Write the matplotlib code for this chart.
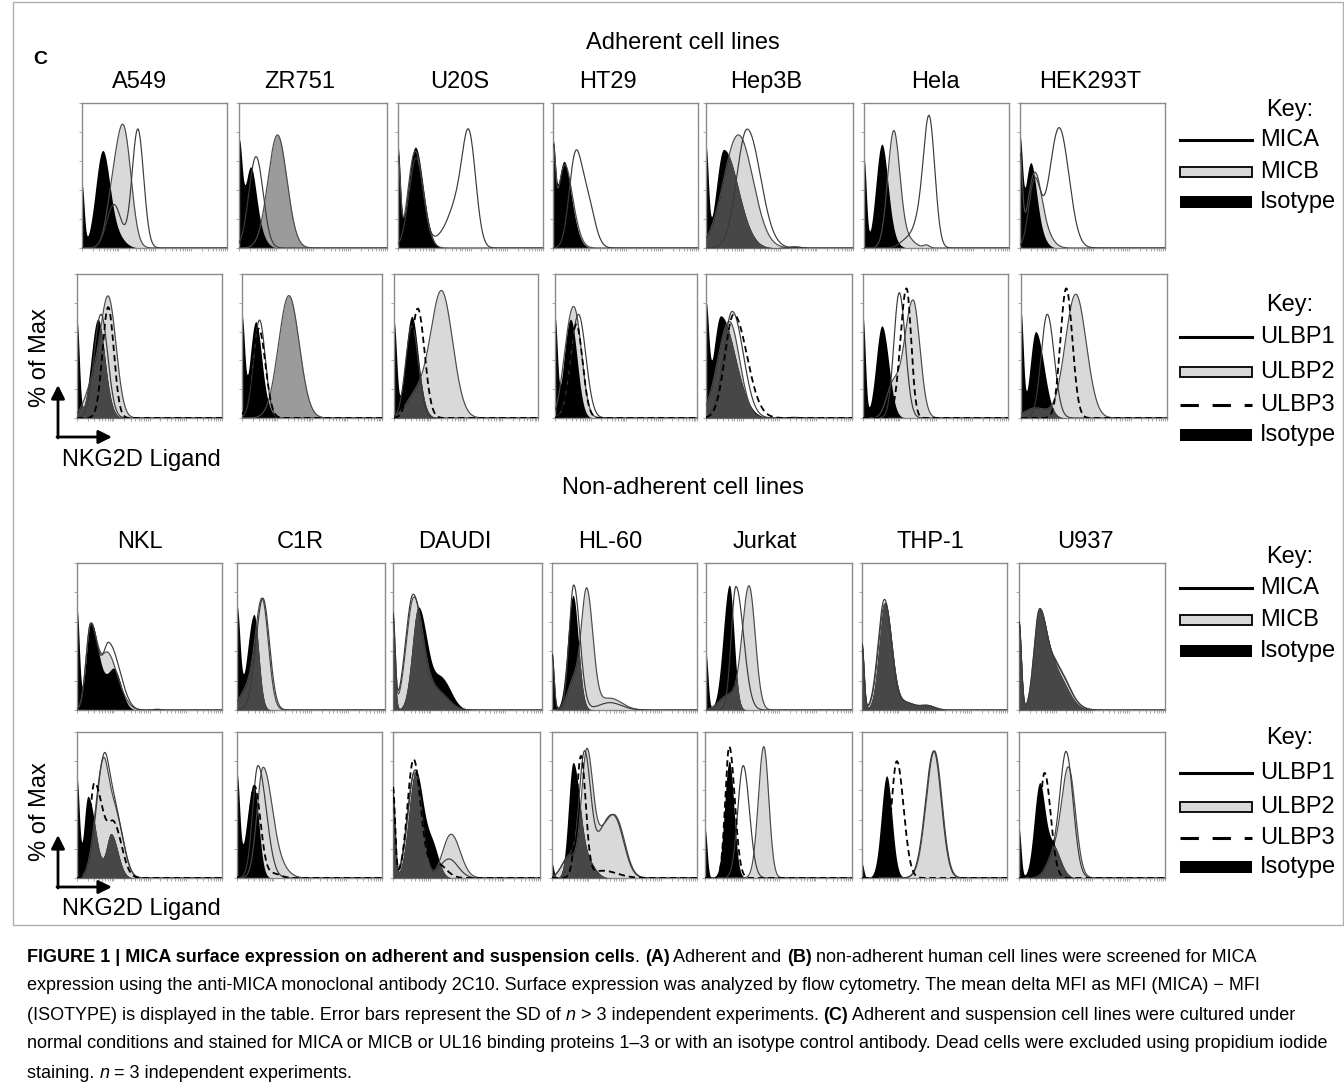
import numpy as np
import matplotlib
matplotlib.use("Agg")
import matplotlib.pyplot as plt
from matplotlib.patches import Rectangle

W, H = 1344, 1089
plt.rcParams['font.family'] = ['Liberation Sans', 'DejaVu Sans']

# ---------------------------------------------------------------- data
adherent_lines = ["A549", "ZR751", "U20S", "HT29", "Hep3B", "Hela", "HEK293T"]
nonadherent_lines = ["NKL", "C1R", "DAUDI", "HL-60", "Jurkat", "THP-1", "U937"]

# Histogram peaks: (centre, height, left width, right width)
# on a 0-1 log-fluorescence axis, height as fraction of the panel ("% of Max").
adh_mic_iso = [
    [(0, .43, .015), (.14, .63, .048), (.22, .10, .06)],
    [(0, .67, .02), (.075, .51, .038), (.13, .10, .045)],
    [(0, .66, .016), (.115, .65, .048), (.18, .12, .045)],
    [(0, .60, .016), (.07, .53, .042), (.13, .15, .045)],
    [(0, .66, .016), (.12, .68, .05, .10), (.60, .015, .06)],
    [(0, .61, .016), (.12, .66, .04), (.17, .10, .045)],
    [(0, .66, .016), (.07, .52, .038), (.12, .12, .045)],
]
adh_mica = [
    [(.22, .30, .05), (.385, .82, .04)],
    [(.115, .63, .048)],
    [(.125, .62, .05), (.30, .07, .06), (.40, .25, .055), (.49, .75, .047)],
    [(.15, .55, .042), (.23, .35, .052)],
    [(.28, .82, .07, .09)],
    [(.30, .06, .05), (.38, .15, .04), (.45, .88, .039)],
    [(.10, .45, .04), (.27, .83, .067)],
]
adh_micb = [
    [(.21, .30, .045), (.29, .78, .05)],
    [(.26, .78, .064)],
    [(0, .60, .016), (.115, .63, .048), (.18, .10, .045)],
    [(0, .58, .016), (.075, .52, .045), (.14, .14, .045)],
    [(.22, .78, .10)],
    [(.205, .80, .042), (.30, .06, .05), (.43, .02, .02)],
    [(0, .60, .016), (.10, .50, .047), (.18, .08, .05)],
]
adh_ulbp_iso = [
    [(0, .67, .016), (.14, .63, .045), (.19, .10, .045)],
    [(0, .67, .018), (.095, .62, .04), (.15, .10, .045)],
    [(0, .66, .018), (.12, .65, .042), (.17, .10, .045)],
    [(0, .67, .016), (.10, .55, .042), (.14, .20, .04)],
    [(0, .70, .018), (.10, .71, .05, .10), (.60, .012, .06)],
    [(0, .70, .016), (.13, .64, .04, .047)],
    [(0, .72, .016), (.10, .60, .037, .057)],
]
adh_ulbp1 = [
    [(.165, .72, .047)],
    [(.125, .68, .042)],
    [(.125, .64, .044)],
    [(.165, .72, .052)],
    [(.18, .74, .06, .075)],
    [(.25, .87, .037, .042)],
    [(.18, .72, .042, .047)],
]
adh_ulbp2 = [
    [(.12, .25, .06), (.22, .78, .052)],
    [(.335, .85, .074)],
    [(.15, .15, .07), (.33, .88, .077)],
    [(.08, .30, .042), (.145, .66, .047)],
    [(.16, .67, .08, .07)],
    [(.20, .20, .042), (.345, .82, .062, .047)],
    [(.10, .07, .08), (.375, .86, .072, .072)],
]
adh_ulbp3 = [
    [(.215, .77, .039)],
    [(.12, .62, .047)],
    [(.165, .76, .047)],
    [(.15, .65, .044)],
    [(.19, .72, .06, .09)],
    [(.30, .90, .042, .032)],
    [(.31, .90, .04, .042)],
]
non_mic_iso = [
    [(0, .68, .016), (.095, .58, .032, .047), (.18, .12, .042), (.26, .26, .042, .047), (.55, .012, .04)],
    [(0, .68, .02), (.115, .65, .045, .032)],
    [(0, .50, .014), (.17, .70, .042, .062), (.33, .20, .052, .062)],
    [(0, .40, .014), (.145, .78, .037, .037)],
    [(0, .38, .014), (.16, .85, .042, .032)],
    [(0, .46, .014), (.16, .73, .042, .047), (.30, .05, .06), (.45, .03, .05)],
    [(0, .60, .016), (.14, .66, .037, .052), (.25, .25, .052, .08)],
]
non_mica = [
    [(.095, .59, .032, .052), (.22, .40, .037, .057), (.30, .10, .05)],
    [(.175, .76, .047, .044)],
    [(0, .64, .014), (.135, .78, .05, .062), (.30, .12, .07)],
    [(0, .38, .014), (.15, .85, .032, .042), (.40, .05, .08)],
    [(.205, .84, .032, .052)],
    [(0, .45, .014), (.155, .75, .044, .047), (.30, .05, .06), (.45, .03, .05)],
    [(0, .60, .016), (.14, .67, .037, .052), (.26, .27, .052, .08)],
]
non_micb = [
    [(.095, .585, .032, .05), (.215, .34, .042, .052), (.30, .08, .05)],
    [(.06, .12, .05), (.17, .75, .047, .042)],
    [(0, .62, .014), (.14, .76, .05, .062), (.30, .12, .07)],
    [(.15, .20, .042), (.24, .80, .037, .042), (.40, .08, .08)],
    [(.15, .10, .06), (.295, .84, .047, .042)],
    [(0, .44, .014), (.158, .72, .044, .048), (.30, .05, .06), (.45, .03, .05)],
    [(0, .60, .016), (.14, .66, .037, .052), (.26, .28, .052, .08)],
]
non_ulbp_iso = [
    [(0, .67, .016), (.075, .56, .027, .052), (.235, .30, .032, .047)],
    [(0, .68, .018), (.115, .64, .047, .035)],
    [(0, .55, .014), (.155, .73, .047, .052), (.27, .20, .042, .042)],
    [(0, .10, .012), (.145, .78, .032, .047), (.25, .10, .05)],
    [(0, .34, .014), (.165, .80, .032, .032)],
    [(0, .10, .012), (.17, .70, .037, .037)],
    [(0, .34, .014), (.14, .63, .037, .037), (.23, .22, .042, .052)],
]
non_ulbp1 = [
    [(.185, .80, .052, .042), (.27, .40, .042, .052)],
    [(.145, .77, .037, .057)],
    [(0, .58, .014), (.15, .74, .047, .047), (.38, .13, .062, .062)],
    [(.12, .15, .05), (.225, .84, .037, .042), (.34, .20, .05), (.435, .39, .062, .062)],
    [(.26, .77, .037, .042)],
    [(.495, .87, .057, .052)],
    [(.24, .15, .05), (.325, .83, .042, .047)],
]
non_ulbp2 = [
    [(.18, .78, .052, .042), (.27, .40, .042, .052)],
    [(.18, .75, .042, .062), (.30, .06, .06)],
    [(0, .56, .014), (.145, .72, .047, .047), (.395, .30, .057, .062)],
    [(.12, .15, .05), (.24, .85, .037, .042), (.34, .20, .05), (.44, .40, .062, .062)],
    [(.40, .90, .037, .034)],
    [(.50, .87, .057, .052)],
    [(.24, .15, .05), (.34, .74, .047, .047)],
]
non_ulbp3 = [
    [(.12, .65, .032, .062), (.26, .33, .042, .052)],
    [(.12, .63, .037, .042), (.25, .03, .05)],
    [(0, .62, .014), (.14, .81, .042, .047), (.30, .10, .06)],
    [(.20, .82, .032, .032), (.35, .05, .10)],
    [(.165, .90, .027, .037)],
    [(.24, .80, .037, .047)],
    [(.175, .72, .032, .042)],
]

key_mic = ["MICA", "MICB", "Isotype"]
key_ulbp = ["ULBP1", "ULBP2", "ULBP3", "Isotype"]

# ---------------------------------------------------------------- styles
LIGHT, MED, DARK = '#d9d9d9', '#9b9b9b', '#474747'
adh_mic_fill = [LIGHT, MED, LIGHT, LIGHT, LIGHT, LIGHT, LIGHT]
adh_mic_over = ['k', 'k', 'k', 'k', DARK, 'k', 'k']
adh_ulbp_fill = [LIGHT, MED, LIGHT, LIGHT, LIGHT, LIGHT, LIGHT]
adh_ulbp_over = [DARK, 'k', DARK, 'k', DARK, 'k', DARK]
non_fill = [LIGHT] * 7
non_mic_over = ['k', DARK, DARK, DARK, DARK, DARK, DARK]
non_ulbp_over = [DARK, 'k', DARK, DARK, 'k', 'k', DARK]

row_y = [(103, 248), (274, 418), (563, 710), (732, 878)]
row_x = [
    [(82, 227), (239, 387), (398, 543), (553, 698), (706, 853), (864, 1009), (1020, 1165)],
    [(77, 222), (242, 382), (394, 538), (555, 697), (706, 852), (863, 1008), (1021, 1167)],
    [(77, 222), (237, 385), (393, 542), (552, 697), (706, 852), (862, 1007), (1019, 1165)],
    [(77, 222), (237, 382), (393, 540), (552, 697), (705, 852), (862, 1007), (1019, 1165)],
]
title_x_top = [140, 300, 460, 608, 766, 935, 1090]
title_x_bot = [140, 300, 455, 610, 765, 930, 1085]

XG = np.linspace(0, 1, 700)


def curve(comps):
    y = np.zeros_like(XG)
    for c in comps:
        if len(c) == 3:
            mu, h, sl = c
            sr = sl
        else:
            mu, h, sl, sr = c
        s = np.where(XG < mu, sl, sr)
        y += h * np.exp(-0.5 * ((XG - mu) / s) ** 2)
    return np.clip(y, 0, 0.98)


fig = plt.figure(figsize=(W / 100, H / 100), dpi=100)
ax0 = fig.add_axes([0, 0, 1, 1])
ax0.set_xlim(0, W)
ax0.set_ylim(H, 0)
ax0.axis('off')


def panel_axes(l, r, t, b):
    ax = fig.add_axes([l / W, 1 - b / H, (r - l) / W, (b - t) / H])
    ax.set_xlim(0, 1)
    ax.set_ylim(0, 1)
    minors = [(d + np.log10(k)) / 4 for d in range(4) for k in range(1, 10)] + [1.0]
    ax.set_xticks(minors)
    ax.set_yticks(np.linspace(0, 1, 6))
    ax.tick_params(length=2.2, width=0.6, color='#9a9a9a', labelbottom=False, labelleft=False)
    for sp in ax.spines.values():
        sp.set_color('#8a8a8a')
        sp.set_linewidth(1.0)
    return ax


def draw_panel(ax, iso, grey, solid, dashed, fillc, overc):
    yi = curve(iso)
    yg = curve(grey)
    ax.fill_between(XG, 0, yg, color=fillc, lw=0, zorder=1)
    ax.fill_between(XG, 0, yi, color='k', lw=0, zorder=2)
    if overc != 'k':
        ax.fill_between(XG, 0, np.minimum(yi, yg), color=overc, lw=0, zorder=3)
    ax.plot(XG, yg, color='#4a4a4a', lw=0.85, zorder=4)
    ax.plot(XG, curve(solid), color='#3a3a3a', lw=0.85, zorder=5)
    if dashed is not None:
        ax.plot(XG, curve(dashed), color='k', lw=1.3, dashes=(3.5, 2.2), zorder=6)


for i in range(7):
    t, b = row_y[0]; l, r = row_x[0][i]
    draw_panel(panel_axes(l, r, t, b), adh_mic_iso[i], adh_micb[i], adh_mica[i], None,
               adh_mic_fill[i], adh_mic_over[i])
    t, b = row_y[1]; l, r = row_x[1][i]
    draw_panel(panel_axes(l, r, t, b), adh_ulbp_iso[i], adh_ulbp2[i], adh_ulbp1[i], adh_ulbp3[i],
               adh_ulbp_fill[i], adh_ulbp_over[i])
    t, b = row_y[2]; l, r = row_x[2][i]
    draw_panel(panel_axes(l, r, t, b), non_mic_iso[i], non_micb[i], non_mica[i], None,
               non_fill[i], non_mic_over[i])
    t, b = row_y[3]; l, r = row_x[3][i]
    draw_panel(panel_axes(l, r, t, b), non_ulbp_iso[i], non_ulbp2[i], non_ulbp1[i], non_ulbp3[i],
               non_fill[i], non_ulbp_over[i])

# ---------------------------------------------------------------- texts
FS = 17
ax0.add_patch(Rectangle((13, 2), 1330, 923, fill=False, ec='#b0b0b0', lw=1.0))
ax0.text(40, 60, "C", fontsize=14, fontweight='bold', ha='center', va='center')
ax0.text(683, 43, "Adherent cell lines", fontsize=FS, ha='center', va='center')
ax0.text(683, 488, "Non-adherent cell lines", fontsize=FS, ha='center', va='center')
for i in range(7):
    ax0.text(title_x_top[i], 82, adherent_lines[i], fontsize=FS, ha='center', va='center')
    ax0.text(title_x_bot[i], 542, nonadherent_lines[i], fontsize=FS, ha='center', va='center')

for (ycorner, ylab, ytxt) in [(437, 358, 460), (887, 812, 909)]:
    ax0.text(40, ylab, "% of Max", fontsize=FS, rotation=90, ha='center', va='center')
    ax0.annotate('', xy=(58, ycorner - 52), xytext=(58, ycorner + 1),
                 arrowprops=dict(arrowstyle='-|>', lw=2, color='k', mutation_scale=20,
                                 shrinkA=0, shrinkB=0))
    ax0.annotate('', xy=(112, ycorner), xytext=(57, ycorner),
                 arrowprops=dict(arrowstyle='-|>', lw=2, color='k', mutation_scale=20,
                                 shrinkA=0, shrinkB=0))
    ax0.text(62, ytxt, "NKG2D Ligand", fontsize=FS, ha='left', va='center')

KX0, KX1, KT = 1180, 1252, 1260


def key_block(ykey, ys, labels):
    ax0.text(1290, ykey, "Key:", fontsize=FS, ha='center', va='center')
    for y, lab in zip(ys, labels):
        if lab in ("MICA", "ULBP1"):
            ax0.plot([KX0, KX1], [y, y], color='k', lw=2.2)
        elif lab in ("MICB", "ULBP2"):
            ax0.add_patch(Rectangle((KX0, y - 5), KX1 - KX0, 10, fc=LIGHT, ec='k', lw=1.3))
        elif lab == "ULBP3":
            ax0.plot([KX0, KX1], [y, y], color='k', lw=2.2, dashes=(6, 4.5))
        else:
            ax0.add_patch(Rectangle((KX0, y - 6), KX1 - KX0, 12, fc='k', ec='k', lw=0))
        ax0.text(KT, y, lab, fontsize=FS, ha='left', va='center')


key_block(110, [140, 172, 202], key_mic)
key_block(305, [337, 372, 405, 435], key_ulbp)
key_block(557, [588, 620, 651], key_mic)
key_block(738, [773, 807, 838, 867], key_ulbp)

# ---------------------------------------------------------------- caption
renderer = fig.canvas.get_renderer()
CFS = 13.0


def txt_width(s, **kw):
    t1 = ax0.text(0, 0, "|" + s + "|", fontsize=CFS, **kw)
    t2 = ax0.text(0, 0, "||", fontsize=CFS, **kw)
    w = t1.get_window_extent(renderer).width - t2.get_window_extent(renderer).width
    t1.remove(); t2.remove()
    return w


def runs(x, y, parts):
    for s, st in parts:
        kw = {}
        if st == 'b':
            kw['fontweight'] = 'bold'
        elif st == 'i':
            kw['fontstyle'] = 'italic'
        ax0.text(x, y, s, fontsize=CFS, ha='left', va='center', **kw)
        x += txt_width(s, **kw)


caption = [
    [("FIGURE 1 | MICA surface expression on adherent and suspension cells", 'b'), (". ", 'n'),
     ("(A)", 'b'), (" Adherent and ", 'n'), ("(B)", 'b'),
     (" non-adherent human cell lines were screened for MICA", 'n')],
    [("expression using the anti-MICA monoclonal antibody 2C10. Surface expression was analyzed "
      "by flow cytometry. The mean delta MFI as MFI (MICA) \u2212 MFI", 'n')],
    [("(ISOTYPE) is displayed in the table. Error bars represent the SD of ", 'n'), ("n", 'i'),
     (" > 3 independent experiments. ", 'n'), ("(C)", 'b'),
     (" Adherent and suspension cell lines were cultured under", 'n')],
    [("normal conditions and stained for MICA or MICB or UL16 binding proteins 1\u20133 or with an "
      "isotype control antibody. Dead cells were excluded using propidium iodide", 'n')],
    [("staining. ", 'n'), ("n", 'i'), (" = 3 independent experiments.", 'n')],
]
for k, parts in enumerate(caption):
    runs(27, 957 + k * 29, parts)

fig.savefig("out.png", dpi=100)
